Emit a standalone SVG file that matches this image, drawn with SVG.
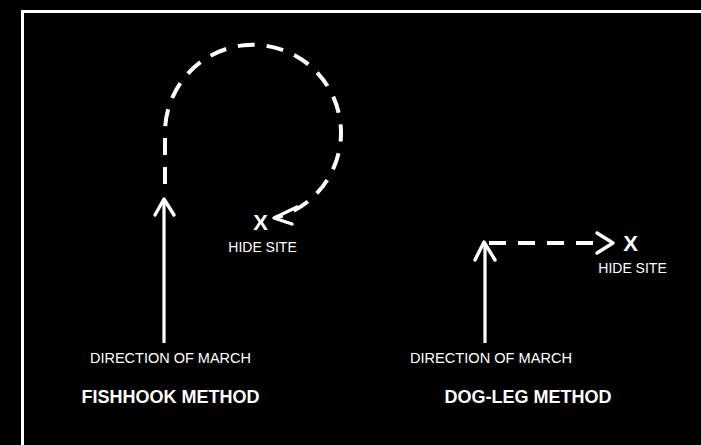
<svg xmlns="http://www.w3.org/2000/svg" width="701" height="445" viewBox="0 0 701 445">
<style>
text{font-family:"Liberation Sans",Arial,sans-serif;fill:#fff}
.lbl{font-size:14.5px}
.hs{font-size:14px}
.ttl{font-size:18px;font-weight:bold}
.x{font-size:22px;font-weight:bold}
.solid{stroke:#fff;stroke-width:3.2;fill:none}
.head{stroke:#fff;stroke-width:3.4;fill:none;stroke-linecap:round;stroke-linejoin:round}
.dash{stroke:#fff;stroke-width:4;fill:none;stroke-dasharray:17 12}
</style>
<rect width="701" height="445" fill="#000"/>
<path d="M22.5 445V11.5H701" stroke="#fff" stroke-width="3" fill="none"/>
<g id="connectors">
<path class="solid" d="M164 343V201"/>
<path class="head" d="M155 215L164 199L174 215"/>
<path class="dash" d="M165 184V135A88 88 0 1 1 275 218"/>
<path class="head" stroke-width="4" d="M297 207L274 218L292 224"/>
<path class="solid" d="M485 343V244"/>
<path class="head" d="M475 260L484 242L495 260"/>
<path class="dash" stroke-dasharray="22 8" d="M489 243H593"/>
<path class="head" stroke-width="4.5" d="M597 233L613 243L597 253"/>
</g>
<g id="fishhook">
<text class="x" x="260.5" y="230" text-anchor="middle">X</text>
<text class="hs" x="262.5" y="252" text-anchor="middle">HIDE SITE</text>
<text class="lbl" x="170.5" y="363" text-anchor="middle" textLength="161" lengthAdjust="spacingAndGlyphs">DIRECTION OF MARCH</text>
<text class="ttl" x="170.5" y="403" text-anchor="middle">FISHHOOK METHOD</text>
</g>
<g id="dogleg">
<text class="x" x="630.5" y="251" text-anchor="middle">X</text>
<text class="hs" x="632.5" y="273" text-anchor="middle">HIDE SITE</text>
<text class="lbl" x="491" y="363" text-anchor="middle" textLength="162" lengthAdjust="spacingAndGlyphs">DIRECTION OF MARCH</text>
<text class="ttl" x="528" y="403" text-anchor="middle">DOG-LEG METHOD</text>
</g>
</svg>
